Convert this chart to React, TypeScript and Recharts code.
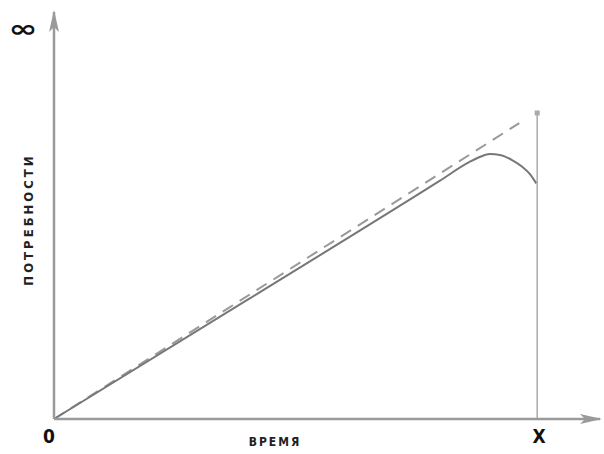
import { LineChart, Line, XAxis, YAxis, ReferenceLine, ReferenceDot } from 'recharts';

// срок X и верх вертикали
const horizon = 100;
const topLevel = 100;

// потребности по плану (пунктир)
const planned = [
  { x: 0, y: 0 },
  { x: 96.3, y: 96.7 },
];

// фактическая кривая
const actual = [
  { x: 0, y: 0 },
  { x: 40, y: 38.9 },
  { x: 79.8, y: 77.8 },
  { x: 86, y: 84 },
  { x: 88.1, y: 85.6 },
  { x: 90.2, y: 86.6 },
  { x: 92.3, y: 86.3 },
  { x: 94.8, y: 84.6 },
  { x: 96.9, y: 82.4 },
  { x: 98.5, y: 80 },
  { x: 99.8, y: 77 },
];

const xTicks = [0, horizon];
const xTickLabels = ['0', 'X'];
const yTicks = [128];
const yTickLabels = ['∞'];

const axisColor = '#9a9a9a';
const font = '"DejaVu Sans Condensed", "DejaVu Sans", sans-serif';

const ArrowUp = (props: any) => {
  const { cx, cy } = props;
  return <path d={`M${cx},${cy - 2} L${cx - 5},${cy + 20} L${cx},${cy + 15} L${cx + 5},${cy + 20} Z`} fill={axisColor} />;
};

const ArrowRight = (props: any) => {
  const { cx, cy } = props;
  return <path d={`M${cx + 2},${cy} L${cx - 20},${cy - 5} L${cx - 15},${cy} L${cx - 20},${cy + 5} Z`} fill={axisColor} />;
};

const SquareCap = (props: any) => {
  const { cx, cy } = props;
  return <rect x={cx - 2.5} y={cy - 2.5} width={5} height={5} fill="#aaa" />;
};

const XTick = (props: any) => {
  const { x, y, payload, index } = props;
  return (
    <text
      x={x + (index === 0 ? -5 : 2)}
      y={y}
      dy="0.71em"
      textAnchor="middle"
      fill="#111"
      fontSize={19}
      fontWeight="bold"
      fontFamily={font}
    >
      {xTickLabels[xTicks.indexOf(payload.value)]}
    </text>
  );
};

const YTick = (props: any) => {
  const { y, payload } = props;
  return (
    <text
      x={0}
      y={0}
      transform={`translate(23, ${y + 1}) scale(1.45, 1)`}
      dy="0.35em"
      textAnchor="middle"
      fill="#111"
      fontSize={24}
      fontWeight="bold"
      fontFamily="DejaVu Sans, sans-serif"
    >
      {yTickLabels[yTicks.indexOf(payload.value)]}
    </text>
  );
};

export default function App() {
  return (
    <div style={{ position: 'absolute', left: 0, top: 0, background: '#fff' }}>
      <LineChart width={604} height={454} margin={{ top: 12, right: 4, left: 17, bottom: 0 }}>
        <XAxis
          type="number"
          dataKey="x"
          domain={[0, 113]}
          ticks={xTicks}
          tick={XTick}
          tickLine={false}
          tickSize={0}
          tickMargin={11}
          axisLine={{ stroke: axisColor, strokeWidth: 2.5 }}
          height={35}
          label={{
            value: 'ВРЕМЯ',
            position: 'insideBottom',
            dx: -52,
            dy: -3,
            fill: '#222',
            fontSize: 12,
            fontWeight: 'bold',
            fontFamily: font,
            letterSpacing: 2,
          }}
        />
        <YAxis
          type="number"
          dataKey="y"
          domain={[0, 133]}
          ticks={yTicks}
          tick={YTick}
          tickLine={false}
          tickSize={0}
          axisLine={{ stroke: axisColor, strokeWidth: 2.5 }}
          width={37}
          label={{
            value: 'ПОТРЕБНОСТИ',
            angle: -90,
            position: 'insideLeft',
            dx: 6,
            dy: 4,
            fill: '#222',
            fontSize: 13,
            fontWeight: 'bold',
            fontFamily: font,
            letterSpacing: 3,
            style: { textAnchor: 'middle' },
          }}
        />
        <ReferenceLine
          segment={[{ x: horizon, y: 0 }, { x: horizon, y: topLevel }]}
          stroke="#aaa"
          strokeWidth={1.5}
        />
        <ReferenceDot x={horizon} y={topLevel} r={3} shape={SquareCap} />
        <ReferenceDot x={0} y={133} r={3} shape={ArrowUp} />
        <ReferenceDot x={113} y={0} r={3} shape={ArrowRight} />
        <Line
          data={planned}
          dataKey="y"
          type="linear"
          stroke="#999"
          strokeWidth={2}
          strokeDasharray="12 8"
          dot={false}
          isAnimationActive={false}
        />
        <Line
          data={actual}
          dataKey="y"
          type="monotone"
          stroke="#777"
          strokeWidth={2}
          dot={false}
          isAnimationActive={false}
        />
      </LineChart>
    </div>
  );
}
